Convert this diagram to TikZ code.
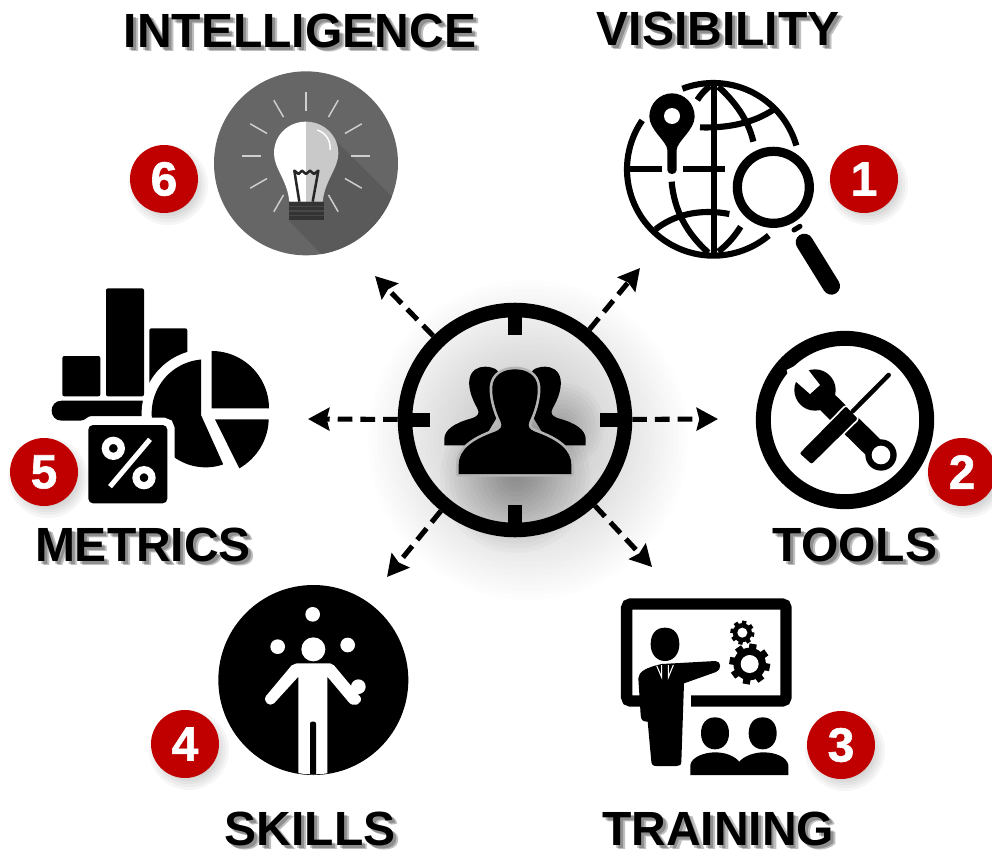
\documentclass[tikz,border=0pt]{standalone}
\usepackage{fontspec}
\setmainfont{Liberation Sans}
\newfontface\digitface{Liberation Sans Bold}[FakeBold=1.2]
\usetikzlibrary{arrows.meta}
\definecolor{badgered}{HTML}{C00000}
\definecolor{bulbdisc}{HTML}{666666}
\definecolor{bulbshadow}{HTML}{5A5A5A}
\definecolor{bulbright}{HTML}{C9C9C9}
\definecolor{bulbray}{HTML}{CFCFCF}
\definecolor{halo}{HTML}{B4B4B4}
\tikzset{
  zm/.style 2 args={shift={(#1,#2)},x=0.25pt,y=-0.25pt},
  lab/.style={font=\fontsize{36}{40}\selectfont\bfseries,inner sep=0pt,text=black},
  digitlab/.style={font=\fontsize{36}{40}\digitface,inner sep=0pt,text=white},
  badgedisc/.style={circle,fill=badgered,minimum size=51pt,inner sep=0pt},
  dasharrow/.style={line width=3.8pt,dash pattern=on 11pt off 6pt,-{Stealth[length=16pt,width=17pt,inset=2pt]}},
  tick/.style={line width=10.5pt},
}
\newcommand{\softdisc}[5]{\foreach \k in {1,...,#4}{\fill[black,opacity=#5] (#1,#2) circle ({#3*\k/#4});}}
\newcommand{\lbl}[4]{%
  \foreach \dx/\dy in {3/3,5/4}{\node[lab,text opacity=0.25] at ({#2+\dx},{#3+\dy}) {#4};}
  \node[lab] (#1) at (#2,#3) {#4};}
\newcommand{\badge}[4]{%
  \softdisc{#2+4}{#3+6}{40}{14}{0.035}
  \node[badgedisc] (#1) at (#2,#3) {};
  \node[digitlab] (#1t) at (#2,#3) {#4};}
\newcommand{\gearshape}[4]{%
  \fill (#1,#2) circle (#3*0.8);
  \foreach \a in {0,45,...,315}{\draw[line width=#3*0.09pt] ({#1+#3*0.6*cos(\a+10)},{#2+#3*0.6*sin(\a+10)}) -- ({#1+#3*cos(\a+10)},{#2+#3*sin(\a+10)});}
  \fill[white] (#1,#2) circle (#4);}
\begin{document}
\begin{tikzpicture}[x=0.75pt,y=-0.75pt]
\useasboundingbox (0,0) rectangle (992,853);
\fill[white] (0,0) rectangle (992,853);

% central soft shadow
\softdisc{528}{440}{160}{34}{0.0075}
\softdisc{515}{478}{75}{16}{0.018}
\softdisc{562}{425}{42}{10}{0.02}

% hub
\node[circle,draw=black,line width=10.9pt,minimum size=165pt,inner sep=0pt] (hub) at (515,420) {};
\draw[tick] (515,310) -- (515,335);
\draw[tick] (515,505) -- (515,530);
\draw[tick] (405,420) -- (430,420);
\draw[tick] (600,420) -- (625,420);

% people
\begin{scope}[zm={380}{290}]
  \fill (193,466) -- (193,445) .. controls (195,420) and (220,400) .. (275,385) .. controls (295,378) and (300,370) .. (292,355) .. controls (275,325) and (265,295) .. (268,270) .. controls (272,240) and (295,230) .. (315,230) .. controls (330,230) and (345,235) .. (350,240) -- (400,300) -- (300,466) -- cycle;
  \fill (617,466) -- (617,445) .. controls (615,420) and (590,400) .. (535,385) .. controls (515,378) and (510,370) .. (518,355) .. controls (535,325) and (545,295) .. (542,270) .. controls (538,240) and (515,230) .. (495,230) .. controls (480,230) and (465,235) .. (460,240) -- (410,300) -- (510,466) -- cycle;
  \draw[halo,line width=4pt,line join=round,fill=black] (236,552) -- (236,525) .. controls (236,480) and (275,450) .. (345,425) .. controls (362,418) and (368,410) .. (362,395) .. controls (345,360) and (335,320) .. (337,290) .. controls (340,255) and (370,238) .. (405,238) .. controls (440,238) and (470,255) .. (473,290) .. controls (475,320) and (465,360) .. (448,395) .. controls (442,410) and (448,418) .. (465,425) .. controls (535,450) and (574,480) .. (574,525) -- (574,552) -- cycle;
  \fill (236,552) -- (236,525) .. controls (236,480) and (275,450) .. (345,425) .. controls (362,418) and (368,410) .. (362,395) .. controls (345,360) and (335,320) .. (337,290) .. controls (340,255) and (370,238) .. (405,238) .. controls (440,238) and (470,255) .. (473,290) .. controls (475,320) and (465,360) .. (448,395) .. controls (442,410) and (448,418) .. (465,425) .. controls (535,450) and (574,480) .. (574,525) -- (574,552) -- cycle;
\end{scope}

% arrows
\coordinate (tipVis) at (640,268);
\coordinate (tipInt) at (375,276);
\coordinate (tipTools) at (718,419);
\coordinate (tipMet) at (308,419);
\coordinate (tipSkill) at (387,577);
\coordinate (tipTrain) at (652,567);
\draw[dasharrow] (hub) -- (tipVis);
\draw[dasharrow] (hub) -- (tipInt);
\draw[dasharrow] (hub) -- (tipTools);
\draw[dasharrow] (hub) -- (tipMet);
\draw[dasharrow] (hub) -- (tipSkill);
\draw[dasharrow] (hub) -- (tipTrain);

% lightbulb
\begin{scope}[zm={200}{70}]
  \fill[bulbdisc] (318,280) circle (276);
  \begin{scope}
    \clip (318,280) circle (276);
    \fill[bulbshadow] (410,215) -- (620,425) -- (620,700) -- (400,590) -- (265,450) -- cycle;
  \end{scope}
  \foreach \a in {0,30,60,90,120,150,180,210,240,300,330}{
    \draw[bulbray,line width=1.1pt] ({318+135*cos(\a)},{258-135*sin(\a)}) -- ({318+193*cos(\a)},{258-193*sin(\a)});}
  \fill[white] (318,155) .. controls (265,155) and (222,195) .. (222,250) .. controls (222,295) and (262,330) .. (268,395) -- (318,395) -- cycle;
  \fill[bulbright] (318,155) .. controls (370,155) and (415,195) .. (415,250) .. controls (415,295) and (375,330) .. (368,395) -- (318,395) -- cycle;
  \draw[white,line width=1.1pt] (352,180) .. controls (380,190) and (393,215) .. (390,240);
  \draw[black!85,line width=1.9pt,line join=round] (298,395) -- (283,302) -- (296,312) -- (306,302) -- (318,312) -- (330,302) -- (342,312) -- (355,302) -- (338,395);
  \fill[black!80] (266,395) rectangle (372,450);
  \draw[bulbdisc!70!black,line width=0.8pt] (266,410) -- (372,410) (266,423) -- (372,423) (266,437) -- (372,437);
\end{scope}

% globe
\begin{scope}[zm={610}{70}]
  \begin{scope}[line width=4.6pt]
    \draw plot[domain=-111:-16,samples=40] ({310+259*cos(\x)},{298+259*sin(\x)});
    \draw plot[domain=50:214.5,samples=60] ({310+259*cos(\x)},{298+259*sin(\x)});
    \draw (312,40) -- (312,555);
    \draw (50,298) -- (155,298);
    \draw (220,298) -- (345,298);
    \draw (262,90) .. controls (275,70) and (285,60) .. (300,48);
    \draw (185,335) .. controls (192,420) and (230,490) .. (295,548);
    \draw (325,50) .. controls (375,95) and (415,150) .. (430,215);
    \draw (392,470) .. controls (370,505) and (350,525) .. (325,545);
    \draw (270,172) .. controls (350,175) and (430,160) .. (492,118);
    \draw (137,478) .. controls (190,435) and (270,415) .. (358,432);
  \end{scope}
  \fill (118,140) .. controls (118,100) and (150,70) .. (186,70) .. controls (222,70) and (254,100) .. (254,140) .. controls (254,180) and (200,215) .. (200,240) -- (200,300) .. controls (200,316) and (172,316) .. (172,300) -- (172,240) .. controls (172,215) and (118,180) .. (118,140) -- cycle;
  \fill[white] (186,138) circle (24);
  \draw[white,line width=6pt] (490,352) circle (122);
  \draw[line width=6.9pt] (490,352) circle (108);
  \draw[line width=3.8pt,line cap=round] (552,480) -- (570,469);
  \draw[line width=13pt,line cap=round] (583,517) -- (664,648);
\end{scope}

% tools
\begin{scope}[zm={740}{320}]
  \draw[line width=11.2pt] (315,300) circle (245);
  \fill (225,210) circle (62);
  \fill[white] (140,150) -- (150,190) -- (168,185) -- (210,222) -- (240,195) -- (205,150) -- (190,125) -- cycle;
  \draw[line width=16pt] (240,225) -- (420,402);
  \fill (423,405) circle (47);
  \fill[white] (423,405) circle (28);
  \draw[white,line width=1.2pt,line join=round,fill=black,rounded corners=2pt] (318,255) -- (357,296) -- (215,436) -- (175,400) -- cycle;
  \draw[line width=3.4pt,line cap=round] (338,274) -- (446,165);
\end{scope}

% metrics
\begin{scope}[zm={0}{280}]
  \fill[rounded corners=1.5pt] (187,228) rectangle (301,349);
  \fill[rounded corners=1.5pt] (318,25) rectangle (432,349);
  \fill[rounded corners=1.5pt] (448,145) rectangle (562,340);
  \fill (185,362) -- (440,362) -- (440,408) -- (275,408) .. controls (260,408) and (258,422) .. (240,422) -- (185,422) .. controls (145,422) and (145,362) .. (185,362) -- cycle;
  \fill[white] (617,400) circle (192);
  \fill plot[domain=265:71,samples=60] ({617+162*cos(\x)},{400+162*sin(\x)}) -- (603,405) -- (603,238) -- cycle;
  \fill plot[domain=-90:0,samples=40] ({635+172*cos(\x)},{385+172*sin(\x)}) -- (635,385) -- cycle;
  \fill (645,418) -- (806,418) .. controls (805,480) and (770,535) .. (718,565) -- cycle;
  \draw[white,line width=11pt,rounded corners=3pt] (265,435) rectangle (502,670);
  \fill[rounded corners=3.5pt] (265,435) rectangle (502,670);
  \draw[white,line width=5.4pt] (340,505) circle (24);
  \draw[white,line width=5.4pt] (432,593) circle (24);
  \draw[white,line width=3.8pt] (450,478) -- (330,620);
\end{scope}

% skills
\begin{scope}[zm={200}{580}]
  \fill (340,300) circle (285);
  \begin{scope}
    \clip (340,300) circle (283);
    \fill[white] (340,208) circle (36);
    \fill[white] (338,103) circle (22);
    \fill[white] (233,200) circle (22);
    \fill[white] (443,195) circle (22);
    \fill[white] (475,320) circle (22);
    \fill[white,line join=round] (290,250) -- (390,250) -- (402,256) -- (482,352) .. controls (488,372) and (460,385) .. (445,365) -- (382,290) -- (382,600) -- (295,600) -- (295,290) -- (222,370) .. controls (208,382) and (188,365) .. (198,348) -- (275,256) -- cycle;
    \fill[black,rounded corners=1.5pt] (330,425) rectangle (348,620);
  \end{scope}
\end{scope}

% training
\begin{scope}[zm={610}{590}]
  \draw[line width=8.6pt,rounded corners=3pt] (50,42) rectangle (528,333);
  \fill[white] (190,312) rectangle (243,356);
  \fill (165,113) .. controls (195,113) and (208,135) .. (208,163) .. controls (208,192) and (190,213) .. (165,213) .. controls (140,213) and (122,192) .. (122,163) .. controls (122,135) and (135,113) .. (165,113) -- cycle;
  \fill (85,265) .. controls (85,245) and (110,232) .. (155,222) -- (316,213) .. controls (335,213) and (335,240) .. (318,246) -- (222,280) -- (214,515) .. controls (214,525) and (208,528) .. (200,528) -- (140,528) .. controls (130,528) and (125,525) .. (124,515) -- (113,395) .. controls (98,395) and (93,390) .. (92,375) -- cycle;
  \draw[white,line width=0.8pt] (140,227) -- (155,262) -- (155,225);
  \draw[white,line width=0.8pt] (190,225) -- (175,262) -- (175,225);
  \gearshape{397}{128}{36}{15}
  \gearshape{419}{222}{61}{27}
  \fill (315,382) .. controls (342,382) and (357,402) .. (357,430) .. controls (357,458) and (340,478) .. (315,478) .. controls (290,478) and (273,458) .. (273,430) .. controls (273,402) and (288,382) .. (315,382) -- cycle;
  \fill (458,382) .. controls (485,382) and (500,402) .. (500,430) .. controls (500,458) and (483,478) .. (458,478) .. controls (433,478) and (416,458) .. (416,430) .. controls (416,402) and (431,382) .. (458,382) -- cycle;
  \fill (241,555) -- (241,525) .. controls (245,500) and (285,487) .. (315,487) .. controls (350,487) and (375,500) .. (388,515) .. controls (400,500) and (430,487) .. (460,487) .. controls (495,487) and (530,500) .. (535,525) -- (535,555) -- cycle;
\end{scope}

% badges
\badge{bVis}{864}{179}{1}
\badge{bTools}{962}{472}{2}
\badge{bTrain}{841}{745}{3}
\badge{bSkill}{185}{744}{4}
\badge{bMet}{44}{472}{5}
\badge{bInt}{164}{179}{6}

% labels
\lbl{lInt}{300}{31}{INTELLIGENCE}
\lbl{lVis}{718}{29}{VISIBILITY}
\lbl{lTools}{855}{545}{TOOLS}
\lbl{lMet}{143}{545}{METRICS}
\lbl{lSkill}{310}{829}{SKILLS}
\lbl{lTrain}{718}{829}{TRAINING}
\end{tikzpicture}
\end{document}
